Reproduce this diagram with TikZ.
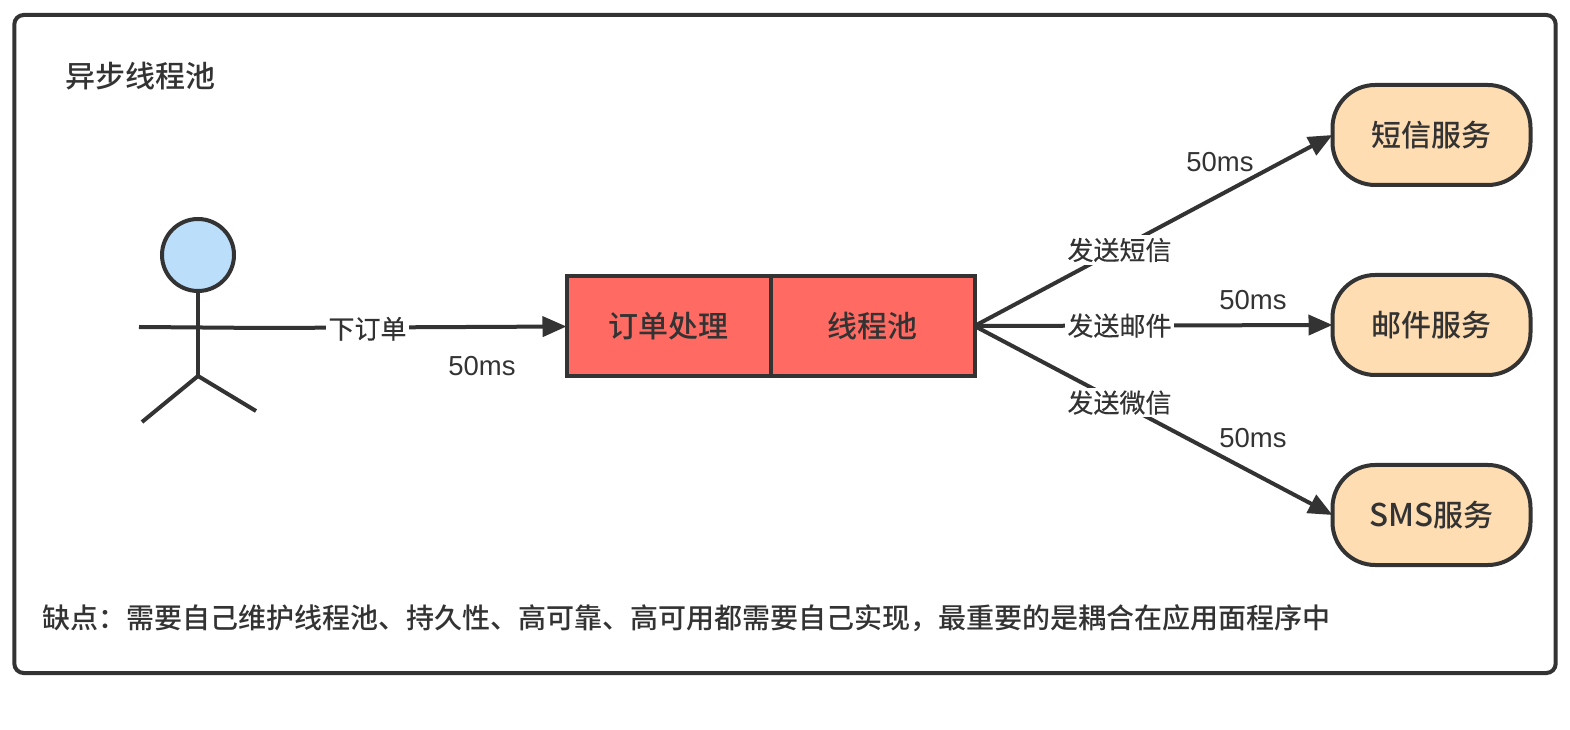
\documentclass[tikz,border=0pt]{standalone}
\usepackage{xcolor}
\usepackage{fontspec}
\setmainfont{Liberation Sans}
\newfontfamily\cjk{Noto Sans CJK SC}[FakeBold=0.3]
\newfontfamily\cjkm{Noto Sans CJK SC Medium}
\usetikzlibrary{arrows.meta,positioning}
\definecolor{inkgray}{HTML}{333333}
\definecolor{headblue}{HTML}{BBDEFB}
\definecolor{poolred}{HTML}{FF6B63}
\definecolor{svcorange}{HTML}{FFDDB3}

\begin{document}
\begin{tikzpicture}[x=0.75pt,y=-0.75pt,>={Triangle[length=18pt,width=15pt]},
    every node/.style={text=inkgray},
    pooltask/.style={draw=inkgray,line width=3pt,outer sep=0pt,fill=poolred,minimum width=153pt,minimum height=75.5pt,inner sep=0pt,font=\fontsize{22.5}{27}\cjkm},
    svcbox/.style={draw=inkgray,line width=3pt,outer sep=0pt,fill=svcorange,rounded corners=32pt,minimum width=148.5pt,minimum height=75pt,inner sep=0pt,font=\fontsize{22.5}{27}\cjkm},
    wire/.style={draw=inkgray,line width=3pt},
    sendlabel/.style={fill=white,inner sep=2pt,font=\fontsize{19.5}{24}\cjk},
    timelabel/.style={inner sep=0pt,font=\fontsize{20.6}{24}\selectfont}]
        \useasboundingbox (0,0) rectangle (1570,730);
        \node[draw=inkgray,line width=3pt,rounded corners=7pt,minimum width=1156pt,minimum height=493.5pt,inner sep=0pt] (frame) at (785,344) {};
        \node[inner sep=0pt,font=\fontsize{22.5}{27}\cjkm] (title) at (140,76) {异步线程池};
        \node[inner sep=0pt,anchor=west,font=\fontsize{21}{27}\cjkm] (drawback) at (42,618) {缺点\symbol{"FF1A}需要自己维护线程池、持久性、高可靠、高可用都需要自己实现\symbol{"FF0C}最重要的是耦合在应用面程序中};

        % person
        \node[circle,draw=inkgray,line width=3pt,fill=headblue,minimum size=54pt,inner sep=0pt] (head) at (198,255) {};
        \coordinate (hip) at (198,376);
        \coordinate (armleft) at (139,327);
        \coordinate (armright) at (265,328);
        \coordinate (legleft) at (142,422);
        \coordinate (legright) at (256,411);
        \draw[wire] (head) -- (hip);
        \draw[wire] (armleft) -- (armright);
        \draw[wire] (legleft) -- (hip) -- (legright);

        \node[pooltask] (order) at (668.5,326) {订单处理};
        \node[pooltask,right=0pt of order] (pool) {线程池};
        \node[svcbox] (sms) at (1431.5,135) {短信服务};
        \node[svcbox,below=67.5pt of sms] (mail) {邮件服务};
        \node[svcbox,below=67.5pt of mail] (other) {{\fontsize{23.5}{27}\selectfont SMS}服务};

        \draw[->,wire] (armright) -- node[sendlabel,pos=.34,yshift=-1pt] (placelabel) {下订单} (order);
        \draw[->,wire] (pool.east) -- node[sendlabel,pos=.405,yshift=-1pt] (smslabel) {发送短信} (sms.west);
        \draw[->,wire] (pool.east) -- node[sendlabel,pos=.405] (maillabel) {发送邮件} (mail.west);
        \draw[->,wire] (pool.east) -- node[sendlabel,pos=.405] (otherlabel) {发送微信} (other.west);

        \node[timelabel] (placetime) at (482,366) {50ms};
        \node[timelabel] (smstime) at (1220,162) {50ms};
        \node[timelabel] (mailtime) at (1253,300) {50ms};
        \node[timelabel] (othertime) at (1253,438) {50ms};
      \end{tikzpicture}
\end{document}
